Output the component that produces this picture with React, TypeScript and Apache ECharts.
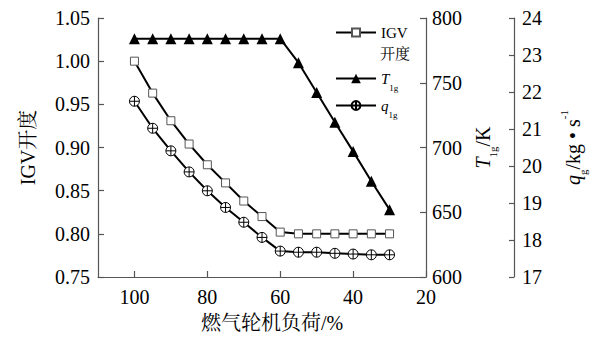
import React, { useEffect, useRef } from 'react';
import * as echarts from 'echarts';

const loads = [100, 95, 90, 85, 80, 75, 70, 65, 60, 55, 50, 45, 40, 35, 30];
const igvOpening = [1.0, 0.963, 0.931, 0.904, 0.88, 0.859, 0.838, 0.82, 0.802, 0.8, 0.8, 0.8, 0.8, 0.8, 0.8];
const t1g = [784, 784, 784, 784, 784, 784, 784, 784, 784, 765.5, 742.5, 719.5, 697, 674, 652];
const q1g = [21.75, 21.02, 20.41, 19.84, 19.33, 18.88, 18.48, 18.07, 17.7, 17.67, 17.67, 17.64, 17.62, 17.6, 17.6];

const SERIF = '"Liberation Serif", "Times New Roman", "Noto Serif CJK SC", "Noto Sans CJK SC", serif';
const CIRCLE_CROSS = 'path://M0,10A10,10,0,1,1,20,10A10,10,0,1,1,0,10Z M10,0L10,20 M0,10L20,10';

export default function App() {
  const ref = useRef<HTMLDivElement>(null);
  useEffect(() => {
    const chart = echarts.init(ref.current!, null, { renderer: 'svg' });
    const axisLine = { show: true, lineStyle: { color: '#555', width: 1.2 } };
    const axisTick = { show: true, inside: true, length: 6, lineStyle: { color: '#555', width: 1.2 } };
    const axisLabelBase = { color: '#000', fontSize: 20, fontFamily: SERIF };
    const tok = (o: any) => ({ fontFamily: SERIF, color: '#000', ...o });

    const option: any = {
      animation: false,
      backgroundColor: '#fff',
      grid: { left: 98, right: 164, top: 18, bottom: 59 },
      xAxis: {
        type: 'value',
        inverse: true,
        min: 20,
        max: 110,
        interval: 20,
        splitLine: { show: false },
        axisLine,
        axisTick,
        axisLabel: { ...axisLabelBase, margin: 10, showMaxLabel: false },
        name: '燃气轮机负荷/%',
        nameLocation: 'middle',
        nameGap: 36,
        nameTextStyle: { color: '#000', fontSize: 20, fontFamily: SERIF, padding: [0, 0, 0, 20] },
      },
      yAxis: [
        {
          type: 'value',
          position: 'left',
          min: 0.75,
          max: 1.05,
          interval: 0.05,
          splitLine: { show: false },
          axisLine,
          axisTick,
          axisLabel: { ...axisLabelBase, margin: 8, formatter: (v: number) => v.toFixed(2) },
          name: 'IGV开度',
          nameLocation: 'middle',
          nameRotate: 90,
          nameGap: 60,
          nameTextStyle: { color: '#000', fontSize: 20, fontFamily: SERIF },
        },
        {
          type: 'value',
          position: 'right',
          min: 600,
          max: 800,
          interval: 50,
          splitLine: { show: false },
          axisLine,
          axisTick,
          axisLabel: { ...axisLabelBase, margin: 6 },
          name: '{i|T}{s|1g}{n|/K}',
          nameLocation: 'middle',
          nameRotate: 90,
          nameGap: 42,
          nameTextStyle: {
            rich: {
              i: tok({ fontSize: 20, lineHeight: 30, fontStyle: 'italic' }),
              s: tok({ fontSize: 11, lineHeight: 12, verticalAlign: 'bottom' }),
              n: tok({ fontSize: 20, lineHeight: 30 }),
            },
          },
        },
        {
          type: 'value',
          position: 'right',
          offset: 88,
          min: 17,
          max: 24,
          interval: 1,
          splitLine: { show: false },
          axisLine,
          axisTick: { ...axisTick, length: 5 },
          axisLabel: { ...axisLabelBase, margin: 8 },
          name: '{i|q}{s|g}{n|/kg • s}{sup|-1}',
          nameLocation: 'middle',
          nameRotate: 90,
          nameGap: 44,
          nameTextStyle: {
            rich: {
              i: tok({ fontSize: 20, lineHeight: 30, fontStyle: 'italic' }),
              s: tok({ fontSize: 11, lineHeight: 12, verticalAlign: 'bottom' }),
              n: tok({ fontSize: 20, lineHeight: 30 }),
              sup: tok({ fontSize: 11, lineHeight: 12, verticalAlign: 'top' }),
            },
          },
        },
      ],
      legend: [
        {
          data: ['IGV开度'],
          orient: 'vertical',
          left: 335,
          top: 25,
          padding: 0,
          itemWidth: 40,
          itemHeight: 10,
          formatter: () => 'IGV',
          textStyle: { fontFamily: SERIF, fontSize: 15, color: '#000' },
        },
        {
          data: ['T1g'],
          orient: 'vertical',
          left: 335,
          top: 71,
          padding: 0,
          itemWidth: 40,
          itemHeight: 12,
          formatter: () => '{i|T}{s|1g}',
          textStyle: {
            rich: {
              i: tok({ fontSize: 15, lineHeight: 28, fontStyle: 'italic' }),
              s: tok({ fontSize: 9, lineHeight: 9, verticalAlign: 'bottom' }),
            },
          },
        },
        {
          data: ['q1g'],
          orient: 'vertical',
          left: 335,
          top: 98,
          padding: 0,
          itemWidth: 40,
          itemHeight: 11,
          formatter: () => '{i|q}{s|1g}',
          textStyle: {
            rich: {
              i: tok({ fontSize: 15, lineHeight: 28, fontStyle: 'italic' }),
              s: tok({ fontSize: 9, lineHeight: 9, verticalAlign: 'bottom' }),
            },
          },
        },
      ],
      graphic: [
        {
          type: 'text',
          left: 380,
          top: 46,
          style: { text: '开度', fontSize: 15, fontFamily: SERIF, fill: '#000' },
        },
      ],
      series: [
        {
          name: 'IGV开度',
          type: 'line',
          yAxisIndex: 0,
          data: loads.map((x, i) => [x, igvOpening[i]]),
          symbol: 'rect',
          symbolSize: 8,
          showAllSymbol: true,
          lineStyle: { color: '#000', width: 2 },
          itemStyle: { color: '#fff', borderColor: '#555', borderWidth: 1 },
        },
        {
          name: 'T1g',
          type: 'line',
          yAxisIndex: 1,
          data: loads.map((x, i) => [x, t1g[i]]),
          symbol: 'triangle',
          symbolSize: 11,
          showAllSymbol: true,
          lineStyle: { color: '#000', width: 2 },
          itemStyle: { color: '#000' },
        },
        {
          name: 'q1g',
          type: 'line',
          yAxisIndex: 2,
          data: loads.map((x, i) => [x, q1g[i]]),
          symbol: CIRCLE_CROSS,
          symbolSize: 10,
          showAllSymbol: true,
          lineStyle: { color: '#000', width: 2 },
          itemStyle: { color: '#fff', borderColor: '#000', borderWidth: 1 },
        },
      ],
    };
    chart.setOption(option);
    return () => chart.dispose();
  }, []);
  return (
    <div
      ref={ref}
      style={{ position: 'fixed', left: 0, top: 0, width: 596, height: 338, background: '#fff' }}
    />
  );
}
